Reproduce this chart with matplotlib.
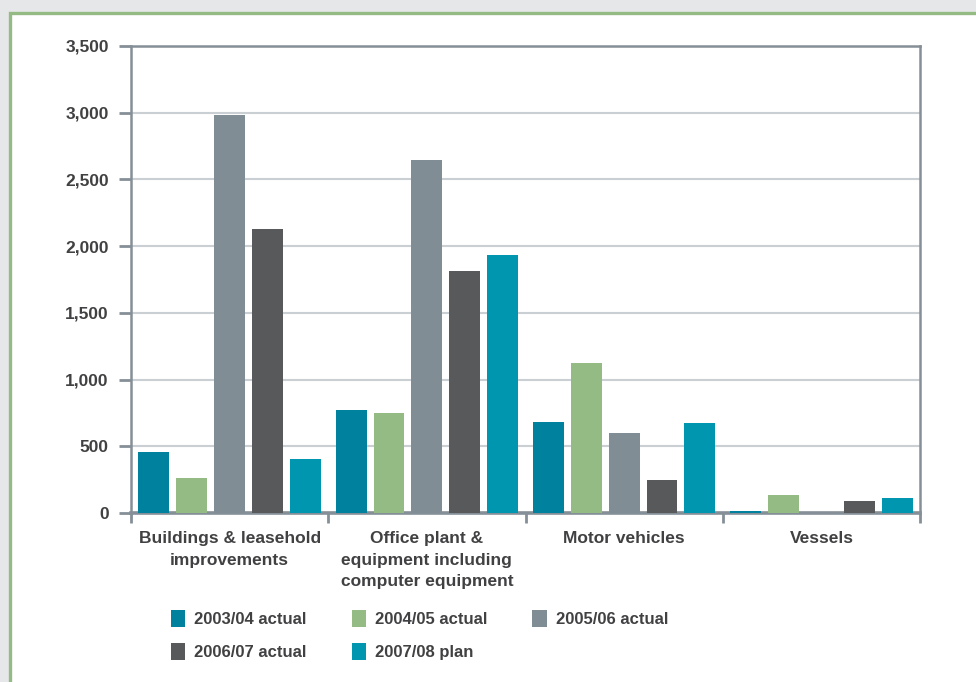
import matplotlib
matplotlib.use("Agg")
import matplotlib.pyplot as plt
import matplotlib.patches as mpatches
from matplotlib import font_manager
import numpy as np

categories = ["Buildings & leasehold\nimprovements",
              "Office plant &\nequipment including\ncomputer equipment",
              "Motor vehicles", "Vessels"]
series_names = ["2003/04 actual", "2004/05 actual", "2005/06 actual",
                "2006/07 actual", "2007/08 plan"]
v2003 = [460, 772, 682, 15]
v2004 = [262, 750, 1124, 135]
v2005 = [2985, 2646, 600, 0]
v2006 = [2130, 1814, 247, 90]
v2008 = [405, 1934, 675, 112]
values = [v2003, v2004, v2005, v2006, v2008]
colors = ["#00829e", "#95bb85", "#818d95", "#58595b", "#0096b0"]
yticks = [0, 500, 1000, 1500, 2000, 2500, 3000, 3500]
ytick_labels = ["0", "500", "1,000", "1,500", "2,000", "2,500", "3,000", "3,500"]

names = {f.name for f in font_manager.fontManager.ttflist}
fam = ["Liberation Sans Narrow", "Liberation Sans", "DejaVu Sans"] if "Liberation Sans Narrow" in names else ["Liberation Sans", "DejaVu Sans"]
plt.rcParams['font.family'] = fam
plt.rcParams['font.weight'] = 'bold'
txt = "#414042"
axc = "#858f97"
fs = 12.5

fig = plt.figure(figsize=(9.76, 6.82), dpi=100)
fig.patch.set_facecolor("#e6e7e8")
panel = mpatches.Rectangle((9.5/976, -0.05), 1.1, 1 - 12.5/682 + 0.05,
                           transform=fig.transFigure, facecolor="white",
                           edgecolor="#95bb85", linewidth=2.4, zorder=-10)
fig.patches.append(panel)

ax = fig.add_axes([131/976, 1 - 513/682, (920 - 131)/976, (513 - 46)/682])
ax.set_facecolor("none")
ax.set_zorder(1)

n = len(categories)
width = 0.157
pitch = 0.192
x = np.arange(n) + 0.5
for i, (vals, c, name) in enumerate(zip(values, colors, series_names)):
    ax.bar(x + (i - 2) * pitch, vals, width, color=c, label=name, zorder=3)

ax.set_xlim(0, n)
ax.set_ylim(0, 3500)
ax.set_yticks(yticks)
ax.set_yticklabels(ytick_labels)
ax.yaxis.grid(True, color="#c9cfd3", linewidth=1.5, zorder=1)
ax.set_axisbelow(True)

ax.set_xticks(np.arange(n + 1))
ax.set_xticklabels([])
ax.set_xticks(x, minor=True)
ax.set_xticklabels(categories, minor=True, fontsize=fs, color=txt,
                   fontweight='bold', linespacing=1.55)
ax.tick_params(axis='x', which='major', length=7, width=2, color=axc, direction='out')
ax.tick_params(axis='x', which='minor', length=0, pad=13)
ax.tick_params(axis='y', length=9, width=2, color=axc, pad=7, labelsize=fs,
               labelcolor=txt)
for lbl in ax.get_yticklabels():
    lbl.set_fontweight('bold')

for s in ['left', 'right', 'top']:
    ax.spines[s].set_color(axc)
    ax.spines[s].set_linewidth(1.8)
ax.spines['bottom'].set_color(axc)
ax.spines['bottom'].set_linewidth(2.6)

handles, labels = ax.get_legend_handles_labels()
order = [0, 3, 1, 4, 2]
leg = fig.legend([handles[i] for i in order], [labels[i] for i in order],
                 ncol=3, loc='upper left', bbox_to_anchor=(156/976, 1 - 595/682),
                 frameon=False, fontsize=12, handlelength=0.85, handleheight=1.2,
                 handletextpad=0.55, columnspacing=2.7, labelspacing=0.95)
for t in leg.get_texts():
    t.set_color(txt)
    t.set_fontweight('bold')

fig.savefig("out.png", dpi=100, facecolor=fig.get_facecolor())
